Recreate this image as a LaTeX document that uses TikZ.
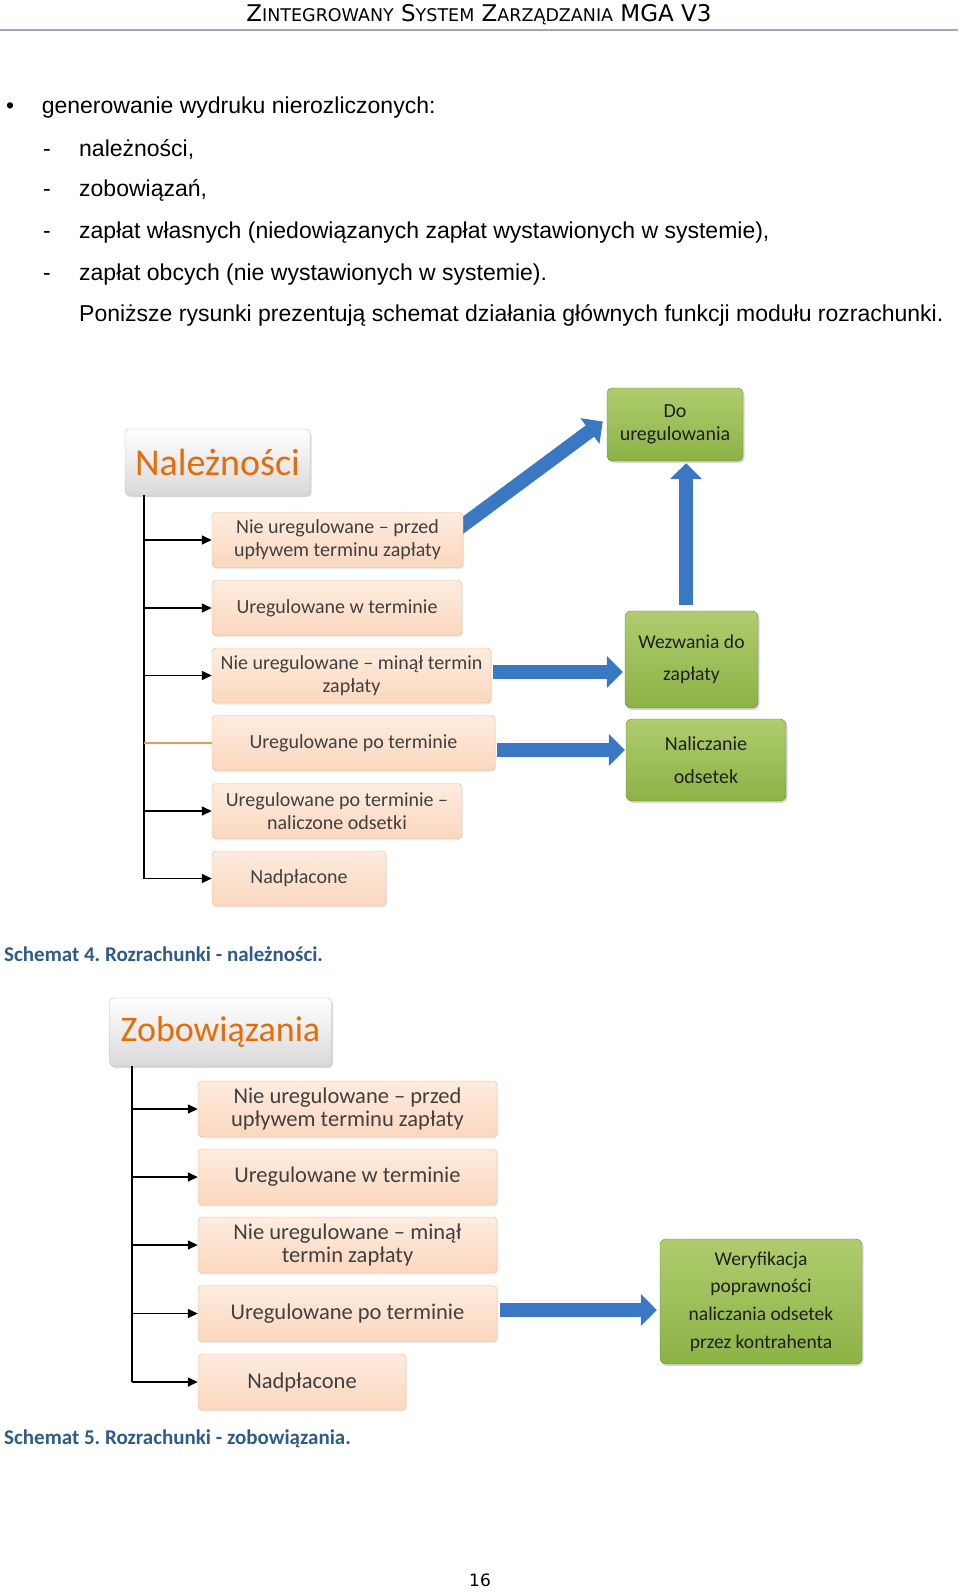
\documentclass[tikz,border=0pt]{standalone}
\usepackage{fontspec}
\setmainfont{Liberation Sans}
\newfontfamily\calfont{Carlito}
\newfontfamily\verfont{DejaVu Sans}
\usetikzlibrary{arrows.meta,shadows,backgrounds}
\frenchspacing

\definecolor{hdrule}{HTML}{9AAAB8}
\definecolor{titleorange}{HTML}{E46C0A}
\definecolor{peachtop}{HTML}{FDECDF}
\definecolor{peachbot}{HTML}{FBD7BE}
\definecolor{peachline}{HTML}{EDB48C}
\definecolor{greentop}{HTML}{B0CC6E}
\definecolor{greenbot}{HTML}{8CB245}
\definecolor{greenline}{HTML}{6B853A}
\definecolor{arrowblue}{HTML}{3A78C3}
\definecolor{captionblue}{HTML}{2F5B8C}

\newcommand\fsz[2]{\fontsize{#1}{#2}\selectfont}

\tikzset{
  headbox/.style={draw=gray!50, rounded corners=4pt, top color=white, bottom color=gray!30,
    inner sep=0pt, text=titleorange,
    drop shadow={shadow xshift=1.5pt, shadow yshift=-2pt, opacity=0.3}},
  statebox/.style={draw=peachline, rounded corners=4pt, top color=peachtop, bottom color=peachbot,
    inner sep=0pt, align=center, text=black!75,
    drop shadow={shadow xshift=1pt, shadow yshift=-1.5pt, opacity=0.15}},
  actbox/.style={draw=greenline, rounded corners=6pt, top color=greentop, bottom color=greenbot,
    inner sep=0pt, align=center, text=black!88,
    drop shadow={shadow xshift=1.5pt, shadow yshift=-2pt, opacity=0.3}},
  spine/.style={line width=2pt, black},
  branch/.style={line width=1.5pt, black, -{Triangle[length=10pt,width=9pt]}},
  plainbranch/.style={line width=1.2pt, draw=titleorange!70},
  bluearrow/.style={line width=14pt, draw=arrowblue, -{Triangle[length=16pt,width=31pt]}},
  pagetext/.style={anchor=base west, inner sep=0pt, font=\fsz{23}{26}},
  caption/.style={anchor=base west, inner sep=0pt, text=captionblue, font=\calfont\bfseries\fsz{21}{24}},
}

\begin{document}
\begin{tikzpicture}[x=1pt,y=-1pt]
\useasboundingbox (0,0) rectangle (960,1592);
% page head and text
\node[anchor=base, inner sep=0pt, font=\verfont\fsz{23}{26}] (head) at (479,21.3)
  {Z{\fsz{17.5}{20}INTEGROWANY} S{\fsz{17.5}{20}YSTEM} Z{\fsz{17.5}{20}ARZĄDZANIA} MGA V3};
\coordinate (rl) at (0,30.4);
\coordinate (rr) at (958,30.4);
\draw[line width=2pt, hdrule] (rl) -- (rr);

\node[pagetext] (bul) at (6,113.6) {•};
\node[pagetext] (t1) at (41.6,113.6) {generowanie wydruku nierozliczonych:};
\node[pagetext] (d2) at (43,156) {-};
\node[pagetext] (t2) at (79,156) {należności,};
\node[pagetext] (d3) at (43,196.7) {-};
\node[pagetext] (t3) at (79,196.7) {zobowiązań,};
\node[pagetext] (d4) at (43,238.3) {-};
\node[pagetext] (t4) at (79,238.3) {zapłat własnych (niedowiązanych zapłat wystawionych w systemie),};
\node[pagetext] (d5) at (43,280) {-};
\node[pagetext] (t5) at (79,280) {zapłat obcych (nie wystawionych w systemie).};
\node[pagetext] (t6) at (79,321.4) {Poniższe rysunki prezentują schemat działania głównych funkcji modułu rozrachunki.};

% schemat 4
\node[headbox, minimum width=185pt, minimum height=66pt, font=\calfont\fsz{38}{40}] (nal) at (217.5,462) {Należności};
\node[statebox, minimum width=251pt, minimum height=55pt, font=\calfont\fsz{20}{23}] (a1) at (337.5,540) {Nie uregulowane – przed\\upływem terminu zapłaty};
\node[statebox, minimum width=250pt, minimum height=55pt, font=\calfont\fsz{20}{23}] (a2) at (337,608) {Uregulowane w terminie};
\node[statebox, minimum width=279pt, minimum height=55pt, font=\calfont\fsz{20}{23}] (a3) at (351.5,675.5) {Nie uregulowane – minął termin\\zapłaty};
\node[statebox, minimum width=283pt, minimum height=55pt, font=\calfont\fsz{20}{23}] (a4) at (353.5,743) {Uregulowane po terminie};
\node[statebox, minimum width=250pt, minimum height=55pt, font=\calfont\fsz{20}{23}] (a5) at (337,811) {Uregulowane po terminie –\\naliczone odsetki};
\node[statebox, minimum width=174pt, minimum height=55pt, font=\calfont\fsz{20}{23}] (a6) at (299,878.5) {Nadpłacone};
\node[actbox, minimum width=136pt, minimum height=73pt, rounded corners=5pt, font=\calfont\fsz{20}{23.3}] (dou) at (675,424.5) {Do\\uregulowania};
\node[actbox, minimum width=133pt, minimum height=97pt, font=\calfont\fsz{19.6}{32.5}] (wez) at (691.5,659.5) {Wezwania do\\zapłaty};
\node[actbox, minimum width=160pt, minimum height=82pt, font=\calfont\fsz{20}{32.5}] (nali) at (706,760) {Naliczanie\\odsetek};

\coordinate (s1) at (143.5,0);
\draw[spine] (nal.south -| s1) -- (a6.west -| s1);
\draw[branch] (a1.west -| s1) -- (a1.west);
\draw[branch] (a2.west -| s1) -- (a2.west);
\draw[branch] (a3.west -| s1) -- (a3.west);
\draw[plainbranch] (a4.west -| s1) -- (a4.west);
\draw[branch] (a5.west -| s1) -- (a5.west);
\draw[branch] (a6.west -| s1) -- (a6.west);

\begin{scope}[on background layer]
\draw[bluearrow, shorten >=5pt] ([xshift=-8pt,yshift=9pt]a1.east) -- ([yshift=6pt]dou.west);
\draw[bluearrow, shorten <=6pt, shorten >=2pt] ([xshift=-5.5pt]wez.north) -- ([xshift=11pt]dou.south);
\draw[bluearrow, shorten <=2pt, shorten >=2pt] ([yshift=3.5pt]a3.east) -- ([yshift=3.5pt]a3.east -| wez.west);
\draw[bluearrow, shorten <=2pt, shorten >=1pt] ([yshift=-7pt]a4.east) -- ([yshift=-7pt]a4.east -| nali.west);
\end{scope}

\node[caption] (cap4) at (4,961.8) {Schemat 4. Rozrachunki - należności.};

% schemat 5
\node[headbox, minimum width=222pt, minimum height=68pt, font=\calfont\fsz{36}{38}] (zob) at (220.5,1032) {Zobowiązania};
\node[statebox, minimum width=299pt, minimum height=56pt, font=\calfont\fsz{22.5}{23.3}] (b1) at (347.5,1109) {Nie uregulowane – przed\\upływem terminu zapłaty};
\node[statebox, minimum width=299pt, minimum height=56pt, font=\calfont\fsz{22.5}{23.3}] (b2) at (347.5,1177) {Uregulowane w terminie};
\node[statebox, minimum width=299pt, minimum height=56pt, font=\calfont\fsz{22.5}{23.3}] (b3) at (347.5,1245) {Nie uregulowane – minął\\termin zapłaty};
\node[statebox, minimum width=299pt, minimum height=56pt, font=\calfont\fsz{22.5}{23.3}] (b4) at (347.5,1313.5) {Uregulowane po terminie};
\node[statebox, minimum width=208pt, minimum height=56pt, font=\calfont\fsz{22.5}{23.3}] (b5) at (302,1382) {Nadpłacone};
\node[actbox, minimum width=202pt, minimum height=125pt, font=\calfont\fsz{19.5}{27.7}] (wer) at (761,1301.5) {Weryfikacja\\poprawności\\naliczania odsetek\\przez kontrahenta};

\coordinate (s2) at (132,0);
\draw[spine] (zob.south -| s2) -- (b5.west -| s2);
\draw[branch] (b1.west -| s2) -- (b1.west);
\draw[branch] (b2.west -| s2) -- (b2.west);
\draw[branch] (b3.west -| s2) -- (b3.west);
\draw[branch] (b4.west -| s2) -- (b4.west);
\draw[branch] (b5.west -| s2) -- (b5.west);

\begin{scope}[on background layer]
\draw[bluearrow, shorten <=3pt, shorten >=3pt] ([yshift=3.5pt]b4.east) -- ([yshift=3.5pt]b4.east -| wer.west);
\end{scope}

\node[caption] (cap5) at (4,1444.4) {Schemat 5. Rozrachunki - zobowiązania.};

\node[anchor=base, inner sep=0pt, font=\verfont\fsz{17}{20}] (pnum) at (480,1586) {16};
\end{tikzpicture}
\end{document}
